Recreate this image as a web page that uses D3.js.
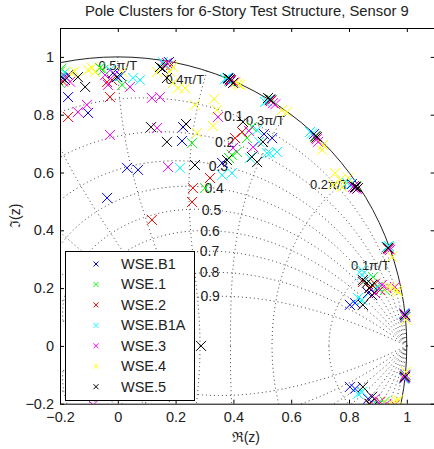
<!DOCTYPE html>
<html>
<head>
<meta charset="utf-8">
<script src="https://cdn.jsdelivr.net/npm/d3@7"></script>
<style>
  body { margin: 0; background: #fff; }
  text { font-family: "Liberation Sans", Arial, sans-serif; }
</style>
</head>
<body>
<div id="root"></div>
<script>
// series names + colours (matlab b g r c m y k)
const seriesNames = ['WSE.B1', 'WSE.1', 'WSE.2', 'WSE.B1A', 'WSE.3', 'WSE.4', 'WSE.5'];
const seriesColors = ['#0000ff', '#00ff00', '#ff0000', '#00ffff', '#ff00ff', '#ffff00', '#000000'];

// poles in upper half plane [re, im]; conjugates added below
const polesB1 = [[-0.19,0.927],[-0.172,0.937],[-0.195,0.93],[-0.172,0.861],[-0.103,0.806],[-0.017,0.944],[0.01,0.935],
  [0.177,0.982],[0.381,0.927],[0.39,0.915],[0.527,0.851],[0.679,0.733],[0.81,0.56],[0.931,0.342],[0.992,0.11],
  [0.803,0.142],[0.821,0.148],[0.866,0.183],
  [0.226,0.757],[0.222,0.709],[0.032,0.616],[0.07,0.609],[-0.037,0.512],[0.506,0.733],[0.534,0.719],[0.361,0.633]];
const poles1 = [[-0.2,0.949],[-0.2,0.91],[-0.195,0.96],[-0.062,0.962],[-0.05,0.955],[0.015,0.903],[0.163,0.975],
  [0.385,0.917],[0.534,0.851],[0.682,0.723],[0.824,0.553],[0.938,0.34],[0.994,0.104],
  [0.883,0.238],[0.924,0.193],[0.9,0.205],
  [0.257,0.702],[0.302,0.546],[0.395,0.661],[0.464,0.757],[0.447,0.719],[0.412,0.671],[0.385,0.65]];
const poles2 = [[-0.207,0.92],[-0.19,0.915],[-0.172,0.792],[-0.037,0.913],[-0.02,0.92],[0.184,0.972],[0.392,0.92],
  [0.53,0.847],[0.686,0.719],[0.817,0.553],[0.935,0.336],[0.993,0.106],
  [0.848,0.221],[0.907,0.193],[0.873,0.201],[0.89,0.215],
  [-0.027,0.861],[0.118,0.436],[0.26,0.546],[0.257,0.498],[0.319,0.581],[0.406,0.719],[0.43,0.74]];
const polesB1A = [[-0.194,0.937],[-0.185,0.945],[-0.027,0.955],[0.0,0.93],[0.053,0.927],[0.077,0.92],[0.156,0.982],
  [0.168,0.97],[0.371,0.923],[0.378,0.928],[0.509,0.844],[0.515,0.848],[0.665,0.74],[0.672,0.735],
  [0.793,0.564],[0.805,0.558],[0.938,0.346],[0.933,0.343],[0.99,0.114],[0.996,0.1],
  [0.845,0.245],[0.844,0.263],[0.897,0.204],[0.845,0.159],[0.831,0.166],[0.86,0.23],
  [0.215,0.616],[0.361,0.591],[0.482,0.747],[0.489,0.706],[0.551,0.671],[0.516,0.667],[0.457,0.65],[0.395,0.598],[0.527,0.667]];
const poles3 = [[-0.165,0.914],[-0.18,0.93],[-0.138,0.809],[-0.107,0.834],[-0.044,0.937],[-0.01,0.94],[-0.034,0.903],[0.042,0.896],
  [0.17,0.979],[0.165,0.968],[0.388,0.92],[0.403,0.912],[0.537,0.84],[0.528,0.85],[0.545,0.836],
  [0.693,0.706],[0.688,0.715],[0.814,0.55],[0.82,0.545],[0.828,0.543],[0.942,0.332],[0.939,0.336],
  [0.995,0.1],[0.992,0.112],
  [0.914,0.211],[0.959,0.204],[0.89,0.183],[0.93,0.2],
  [0.118,0.858],[0.146,0.861],[0.347,0.792],[-0.027,0.73],[0.136,0.754],[0.174,0.619],[0.454,0.744],
  [0.399,0.685],[0.468,0.688],[-0.085,0.205]];
const poles4 = [[-0.16,0.944],[-0.15,0.95],[-0.103,0.955],[-0.09,0.962],[-0.079,0.948],[0.015,0.948],
  [0.191,0.965],[0.18,0.95],[0.136,0.948],[0.191,0.91],[0.208,0.892],[0.423,0.903],[0.409,0.913],[0.416,0.906],
  [0.568,0.816],[0.585,0.809],[0.71,0.695],[0.707,0.678],
  [0.752,0.598],[0.769,0.574],[0.745,0.557],[0.776,0.55],[0.797,0.581],[0.949,0.308],[0.997,0.09],
  [0.935,0.204],[0.966,0.193],[0.97,0.186],[0.95,0.2],
  [0.233,0.892],[0.267,0.834],[0.333,0.854],[0.343,0.816],[0.329,0.761],[0.274,0.737]];
const poles5 = [[-0.183,0.92],[-0.138,0.93],[-0.113,0.896],[-0.003,0.93],[0.146,0.965],[0.155,0.96],[0.17,0.927],
  [0.399,0.91],[0.388,0.923],[0.383,0.925],[0.52,0.858],[0.527,0.853],[0.689,0.723],[0.684,0.726],
  [0.821,0.55],[0.825,0.55],[0.831,0.546],[0.935,0.339],[0.994,0.107],
  [0.862,0.218],[0.88,0.211],[0.848,0.142],[0.88,0.176],[0.848,0.228],[0.87,0.2],
  [0.115,0.757],[0.17,0.706],[0.236,0.768],[0.267,0.626],[0.378,0.643],[0.433,0.775],[0.502,0.706],
  [0.464,0.654],[0.482,0.636],[0.288,0.0]];

const xTicks = [-0.2, 0, 0.2, 0.4, 0.6, 0.8, 1];
const yTicks = [-0.2, 0, 0.2, 0.4, 0.6, 0.8, 1];
const zetaLevels = [0.1, 0.2, 0.3, 0.4, 0.5, 0.6, 0.7, 0.8, 0.9];
const wnLevels = [0.1, 0.2, 0.3, 0.4, 0.5, 0.6, 0.7, 0.8, 0.9, 1.0];   // times pi/T
const wnLabelled = [0.1, 0.2, 0.3, 0.4, 0.5];

const allPoles = [polesB1, poles1, poles2, polesB1A, poles3, poles4, poles5];

const width = 434, height = 449;
const unit = 289;
const plotLeft = 60, plotTop = 28;

const svg = d3.select('#root').append('svg')
    .attr('width', width)
    .attr('height', height);

const x = d3.scaleLinear().domain([-0.2, 1.1]).range([plotLeft, plotLeft + 1.3 * unit]);
const y = d3.scaleLinear().domain([-0.2, 1.1]).range([plotTop + 1.3 * unit, plotTop]);

svg.append('clipPath').attr('id', 'clip')
    .append('rect')
    .attr('x', x(-0.2)).attr('y', y(1.1))
    .attr('width', x(1.1) - x(-0.2)).attr('height', y(-0.2) - y(1.1));

const plot = svg.append('g').attr('clip-path', 'url(#clip)');

// zgrid: z = exp(s), s = -zeta*wn + j*wn*sqrt(1-zeta^2)
const zOf = (zeta, wn, sign) => {
    const m = Math.exp(-zeta * wn);
    const a = wn * Math.sqrt(1 - zeta * zeta);
    return [m * Math.cos(a), sign * m * Math.sin(a)];
};
const line = d3.line().x(d => x(d[0])).y(d => y(d[1]));

[1, -1].forEach(sign => {
    zetaLevels.forEach(zeta => {
        const pts = d3.range(0, 201).map(i => zOf(zeta, Math.PI * i / 200, sign));
        plot.append('path').attr('d', line(pts))
            .attr('fill', 'none').attr('stroke', '#444').attr('stroke-width', 1)
            .attr('stroke-dasharray', '1,3');
    });
    wnLevels.forEach(w => {
        const pts = d3.range(0, 101).map(i => zOf(i / 100, w * Math.PI, sign));
        plot.append('path').attr('d', line(pts))
            .attr('fill', 'none').attr('stroke', '#444').attr('stroke-width', 1)
            .attr('stroke-dasharray', '1,3');
    });
});

// unit circle
plot.append('circle')
    .attr('cx', x(0)).attr('cy', y(0))
    .attr('r', x(1) - x(0))
    .attr('fill', 'none').attr('stroke', '#222').attr('stroke-width', 1);

// grid labels
zetaLevels.forEach(zeta => {
    const p = zOf(zeta, 0.35 * Math.PI, 1);
    plot.append('text')
        .attr('x', x(p[0]) - 3).attr('y', y(p[1]))
        .attr('text-anchor', 'middle').attr('dominant-baseline', 'central')
        .attr('font-size', 14).attr('fill', '#222')
        .text(zeta.toString());
});
wnLabelled.forEach(w => {
    const p = zOf(0, w * Math.PI, 1);
    const c = Math.cos(w * Math.PI);
    plot.append('text')
        .attr('x', x(p[0]) + (c > 0.01 ? -3 : 0)).attr('y', y(p[1]) + 13)
        .attr('text-anchor', c > 0.01 ? 'end' : 'middle')
        .attr('font-size', 13).attr('fill', '#222')
        .text(w + '\u03c0/T');
});

// poles
const cross = 'M-5,-5L5,5M-5,5L5,-5';
allPoles.forEach((upper, i) => {
    const pts = upper.concat(upper.filter(p => p[1] > 0).map(p => [p[0], -p[1]]));
    plot.append('g').selectAll('path')
        .data(pts)
        .enter()
        .append('path')
        .attr('d', cross)
        .attr('transform', d => `translate(${x(d[0])},${y(d[1])})`)
        .attr('fill', 'none')
        .attr('stroke', seriesColors[i])
        .attr('stroke-width', 1);
});

// axes, ticks pointing inward
const fmt = d => d3.format('')(+d.toFixed(1));
svg.append('g').attr('transform', `translate(0,${y(-0.2)})`)
    .call(d3.axisBottom(x).tickValues(xTicks).tickFormat(fmt).tickSizeInner(-4).tickSizeOuter(0).tickPadding(8));
svg.append('g').attr('transform', `translate(0,${y(1.1)})`)
    .call(d3.axisTop(x).tickValues(xTicks).tickFormat('').tickSizeInner(-4).tickSizeOuter(0));
svg.append('g').attr('transform', `translate(${x(-0.2)},0)`)
    .call(d3.axisLeft(y).tickValues(yTicks).tickFormat(fmt).tickSizeInner(-4).tickSizeOuter(0).tickPadding(6));
svg.append('g').attr('transform', `translate(${x(1.1)},0)`)
    .call(d3.axisRight(y).tickValues(yTicks).tickFormat('').tickSizeInner(-5).tickSizeOuter(0));
svg.selectAll('.tick text')
    .attr('font-size', 14.5)
    .attr('font-family', '"Liberation Sans", Arial, sans-serif')
    .attr('fill', '#222');

// titles
svg.append('text')
    .attr('x', (x(-0.2) + x(1.1)) / 2 - 1).attr('y', 16)
    .attr('text-anchor', 'middle').attr('font-size', 14.8).attr('fill', '#222')
    .text('Pole Clusters for 6-Story Test Structure, Sensor 9');
svg.append('text')
    .attr('x', (x(-0.2) + x(1.1)) / 2 - 2).attr('y', 442)
    .attr('text-anchor', 'middle').attr('font-size', 14).attr('fill', '#222')
    .attr('font-family', '"DejaVu Sans", sans-serif')
    .text('\u211c(z)');
svg.append('text')
    .attr('transform', `translate(20,${(y(-0.2) + y(1.1)) / 2}) rotate(-90)`)
    .attr('text-anchor', 'middle').attr('font-size', 14).attr('fill', '#222')
    .attr('font-family', '"DejaVu Sans", sans-serif')
    .text('\u2111(z)');

// legend
const legend = svg.append('g').attr('transform', 'translate(65.5,251.5)');
legend.append('rect')
    .attr('width', 129).attr('height', 149)
    .attr('fill', '#fff').attr('stroke', '#000').attr('stroke-width', 1);
seriesNames.forEach((name, i) => {
    const yy = 12.5 + i * 20.45;
    legend.append('path')
        .attr('d', 'M-2.5,-2.5L2.5,2.5M-2.5,2.5L2.5,-2.5')
        .attr('transform', `translate(30.5,${yy})`)
        .attr('stroke', seriesColors[i]).attr('fill', 'none');
    legend.append('text')
        .attr('x', 55.5).attr('y', yy)
        .attr('dominant-baseline', 'central')
        .attr('font-size', 14.5).attr('fill', '#222')
        .text(name);
});
</script>
</body>
</html>
